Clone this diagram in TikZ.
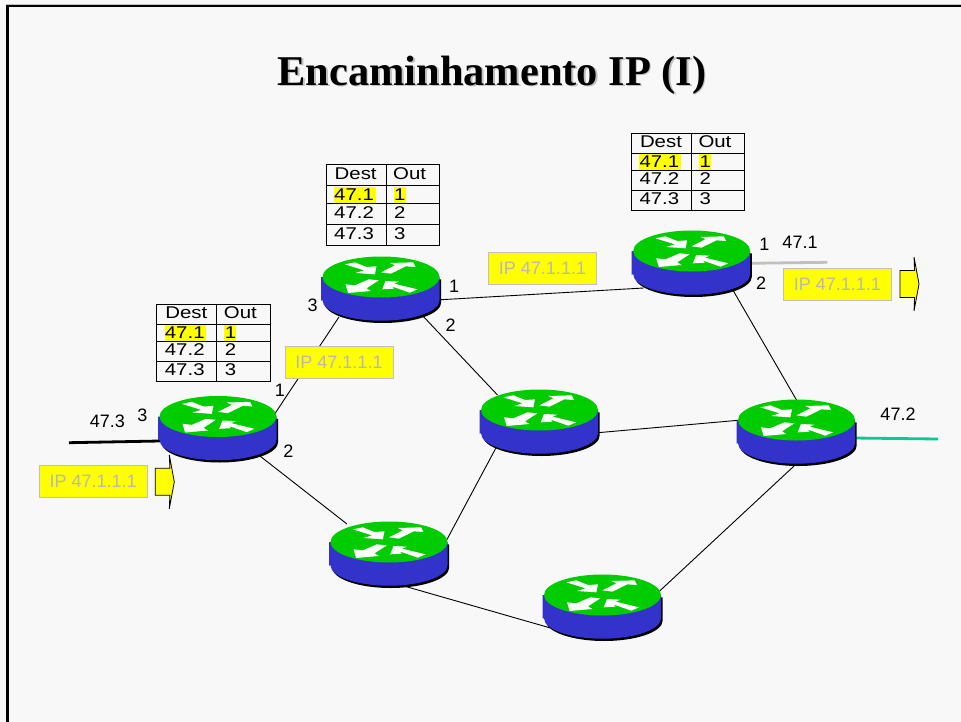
\documentclass[tikz,border=0pt]{standalone}
\usepackage{fontspec}
\setmainfont{Liberation Sans}
\newfontfamily\titlefont{Liberation Serif}
\definecolor{pagebg}{HTML}{F8F8F8}
\definecolor{rgreen}{HTML}{00CC00}
\definecolor{rblue}{HTML}{3333CC}
\definecolor{softgray}{HTML}{C0C0C0}
\definecolor{boxtext}{HTML}{B8B8B8}
\definecolor{teal2}{HTML}{00CC99}
\definecolor{ipyellow}{RGB}{255,255,0}
\newcommand{\stretched}[1]{\scalebox{1.2}[1]{\fontsize{17}{17}\selectfont #1}}
\newcommand{\rtable}[4]{%
  % #1 name, #2 x, #3 y, #4 y factor
  \begin{scope}[shift={(#2,#3)},yscale=#4]
    \fill[ipyellow] (8,21.2) rectangle (49.5,36.6);
    \fill[ipyellow] (67.5,21.2) rectangle (79.5,36.6);
    \draw[tableline] (0,0) rectangle (113.5,77);
    \draw[tableline] (60,0) -- (60,77);
    \draw[tableline] (0,20) -- (113.5,20);
    \draw[tableline] (0,37) -- (113.5,37);
    \draw[tableline] (0,57) -- (113.5,57);
    \node[cell] (#1d) at (8.5,14) {\stretched{Dest}};
    \node[cell] (#1o) at (67,14) {\stretched{Out}};
    \node[cell] (#1a) at (8,34.5) {\stretched{47.1}};
    \node[cell] (#1b) at (8,51) {\stretched{47.2}};
    \node[cell] (#1c) at (8,71) {\stretched{47.3}};
    \node[cell] (#1p) at (68,34.5) {\stretched{1}};
    \node[cell] (#1q) at (68,51) {\stretched{2}};
    \node[cell] (#1r) at (68,71) {\stretched{3}};
  \end{scope}}
\tikzset{
  routerbox/.style={inner sep=0pt,minimum width=117pt,minimum height=64pt},
  tableline/.style={draw=black,line width=0.9pt},
  cell/.style={anchor=base west,inner sep=0pt},
  lbl/.style={font=\fontsize{18}{18}\selectfont,inner sep=0pt,text=black},
  ipbox/.style={draw=softgray,fill=ipyellow,line width=1pt,text=boxtext,
    minimum width=108pt,minimum height=32pt,inner sep=0pt,
    font=\fontsize{18}{18}\selectfont},
  link/.style={draw=black,line width=0.9pt},
  thicklink/.style={line width=2.8pt},
  flagarrow/.style={draw=black,fill=ipyellow,line width=0.8pt},
  router/.pic={
    \path[fill=black,shift={(1.7,2.3)}] (-58.5,0) -- (-58.5,23.2)
      arc[start angle=180,end angle=360,x radius=58.5pt,y radius=20.5pt] -- (58.5,0) -- cycle;
    \path[fill=rblue] (-60,0) -- (-60,23.7) -- (-58.5,23.2)
      arc[start angle=180,end angle=360,x radius=58.5pt,y radius=20.5pt] -- (58.5,0) -- cycle;
    \path[fill=rgreen] (0,0) ellipse[x radius=58.5pt,y radius=20.5pt];
    \begin{scope}[x=0.3333pt,y=-0.3333pt,shift={(-208.5,-90)}]
      \path[fill=white] (100,52) -- (130,46) -- (165,60) -- (195,58) -- (190,82) -- (132,78) -- (158,70) -- cycle;
      \path[fill=white] (208,76) -- (250,55) -- (235,48) -- (305,46) -- (312,60) -- (283,58) -- (238,80) -- cycle;
      \path[fill=white] (172,97) -- (202,100) -- (165,124) -- (178,132) -- (110,138) -- (102,112) -- (130,115) -- cycle;
      \path[fill=white] (212,127) -- (222,102) -- (262,104) -- (248,110) -- (318,127) -- (295,137) -- (240,118) -- (248,125) -- cycle;
    \end{scope}
  },
  flag/.pic={
    \path[flagarrow] (0,-13.5) -- (14.6,-13.5) -- (14,-27) -- (19,0) -- (14,27) -- (14.6,13.5) -- (0,13.5) -- cycle;
  }
}
\begin{document}
\begin{tikzpicture}[x=1pt,y=-1pt]
\useasboundingbox (0,0) rectangle (961,722);
\fill[pagebg] (0,0) rectangle (961,722);
% frame
\fill[softgray] (6,4) rectangle (961,5);
\fill[black] (6,5) rectangle (961,7.3);
\fill[black] (6,5) rectangle (9,722);
% title
\node[anchor=base,inner sep=0pt,text=softgray,font=\titlefont\bfseries\fontsize{42.4}{43}\selectfont] (titleshadow) at (493.5,87) {Encaminhamento IP (I)};
\node[anchor=base,inner sep=0pt,text=black,font=\titlefont\bfseries\fontsize{42.4}{43}\selectfont] (title) at (492,85.5) {Encaminhamento IP (I)};
% router places
\node[routerbox] (r1) at (218,416.5) {};
\node[routerbox] (r2) at (381,277) {};
\node[routerbox] (r3) at (691.7,251) {};
\node[routerbox] (r4) at (539.5,410) {};
\node[routerbox] (r5) at (796.5,420) {};
\node[routerbox] (r6) at (389,542) {};
\node[routerbox] (r7) at (602.5,595) {};
% free ends
\coordinate (net3) at (69,442.7);
\coordinate (net1) at (827.3,262.3);
\coordinate (net2) at (938,439);
% connectors
\draw[link] ([shift={(55,0)}]r1.center) -- ([shift={(-42,40)}]r2.center);
\draw[link] ([shift={(40,38)}]r1.center) -- ([shift={(-42,-18)}]r6.center);
\draw[link] ([shift={(55,23)}]r2.center) -- ([shift={(-48,37)}]r3.center);
\draw[link] ([shift={(40,37)}]r2.center) -- ([shift={(-42,-15)}]r4.center);
\draw[link] ([shift={(40,37)}]r3.center) -- ([shift={(0,-20)}]r5.center);
\draw[link] ([shift={(55,23)}]r4.center) -- ([shift={(-55,0)}]r5.center);
\draw[link] ([shift={(-42,35)}]r4.center) -- ([shift={(55,3)}]r6.center);
\draw[link] ([shift={(4,40)}]r5.center) -- ([shift={(55,-2)}]r7.center);
\draw[link] ([shift={(1,40)}]r6.center) -- ([shift={(-52,33)}]r7.center);
\draw[thicklink,draw=black] ([shift={(-58,24.5)}]r1.center) -- (net3);
\draw[thicklink,draw=softgray] ([shift={(58,12.3)}]r3.center) -- (net1);
\draw[thicklink,draw=teal2] ([shift={(56,18)}]r5.center) -- (net2);
% routers
\pic at (r1) {router};
\pic at (r2) {router};
\pic at (r3) {router};
\pic at (r4) {router};
\pic at (r5) {router};
\pic at (r6) {router};
\pic at (r7) {router};
% tables
\rtable{tl}{156.7}{304}{1}
\rtable{tm}{326}{164.3}{1.057}
\rtable{tr}{631.3}{133.3}{1}
% packets
\node[ipbox] (p1) at (93.2,481.5) {IP 47.1.1.1};
\node[ipbox] (p2) at (339,362.2) {IP 47.1.1.1};
\node[ipbox] (p3) at (542.5,268.5) {IP 47.1.1.1};
\node[ipbox] (p4) at (837.3,284.5) {IP 47.1.1.1};
\pic at (155.3,481.8) {flag};
\pic at (900,284) {flag};
% labels
\node[lbl] (l1) at (142.3,415) {3};
\node[lbl] (l2) at (107.3,421.7) {47.3};
\node[lbl] (l3) at (280,390.7) {1};
\node[lbl] (l4) at (288.3,451.7) {2};
\node[lbl] (l5) at (312.7,305) {3};
\node[lbl] (l6) at (454,286) {1};
\node[lbl] (l7) at (450.7,325.7) {2};
\node[lbl] (l8) at (764.3,244) {1};
\node[lbl] (l9) at (800,242.7) {47.1};
\node[lbl] (l10) at (761,283.3) {2};
\node[lbl] (l11) at (898,414) {47.2};
\end{tikzpicture}
\end{document}
